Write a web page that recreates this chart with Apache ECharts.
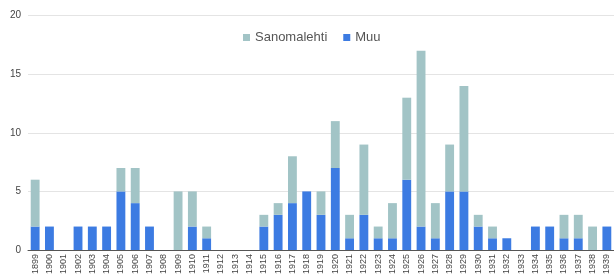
<!DOCTYPE html>
<html><head><meta charset="utf-8">
<script src="https://cdn.jsdelivr.net/npm/echarts@6/dist/echarts.min.js"></script>
<style>html,body{margin:0;padding:0;background:#fff}#c{width:614px;height:277px}</style>
</head><body><div id="c"></div>
<script>
const years = ['1899','1900','1901','1902','1903','1904','1905','1906','1907','1908','1909','1910','1911','1912','1913','1914','1915','1916','1917','1918','1919','1920','1921','1922','1923','1924','1925','1926','1927','1928','1929','1930','1931','1932','1933','1934','1935','1936','1937','1938','1939'];
const muu = [2,2,0,2,2,2,5,4,2,0,0,2,1,0,0,0,2,3,4,5,3,7,1,3,1,1,6,2,1,5,5,2,1,1,0,2,2,1,1,0,2];
const sanomalehti = [4,0,0,0,0,0,2,3,0,0,5,3,1,0,0,0,1,1,4,0,2,4,2,6,1,3,7,15,3,4,9,1,1,0,0,0,0,2,2,2,0];
const yTicks = [0,5,10,15,20];

const chart = echarts.init(document.getElementById('c'));
chart.setOption({
  animation:false,
  grid:{left:28,right:-2.5,top:15.7,bottom:277-250.7,containLabel:false},
  legend:{data:['Sanomalehti','Muu'],left:238,top:26,itemWidth:7,itemHeight:7,itemGap:16,
    icon:'rect',textStyle:{fontFamily:'Arial, Liberation Sans',fontSize:13,color:'#555'}},
  xAxis:{type:'category',data:years,
    axisLine:{lineStyle:{color:'#555',width:1}},axisTick:{show:false},
    axisLabel:{rotate:90,interval:0,fontSize:9,color:'#444',fontFamily:'Arial, Liberation Sans',margin:4}},
  yAxis:{type:'value',min:yTicks[0],max:yTicks[yTicks.length-1],interval:5,
    axisLine:{show:false},axisTick:{show:false},
    axisLabel:{fontSize:10,color:'#444',fontFamily:'Arial, Liberation Sans',margin:7},
    splitLine:{lineStyle:{color:'#e4e4e4'}}},
  series:[
    {name:'Muu',type:'bar',stack:'a',data:muu,barWidth:'62%',itemStyle:{color:'#3c7be2'}},
    {name:'Sanomalehti',type:'bar',stack:'a',data:sanomalehti,barWidth:'62%',itemStyle:{color:'#a2c4c6'}}
  ]
});
</script></body></html>
